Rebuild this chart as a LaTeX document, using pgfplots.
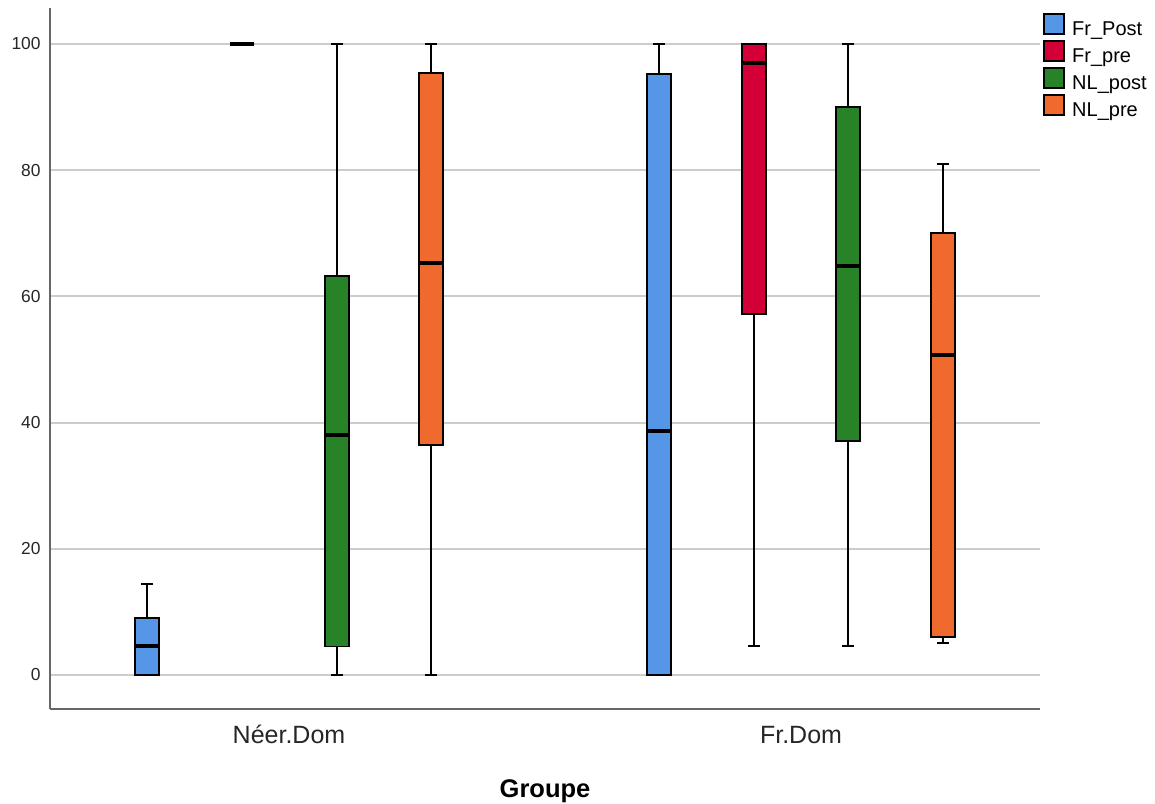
\documentclass[border=0pt]{standalone}
\usepackage{fontspec}
\setmainfont{Liberation Sans}
\usepackage{pgfplots}
\pgfplotsset{compat=1.18}
\usepgfplotslibrary{statistics}
\definecolor{cBlue}{RGB}{85,150,230}
\definecolor{cRed}{RGB}{210,0,55}
\definecolor{cGreen}{RGB}{40,130,40}
\definecolor{cOrange}{RGB}{240,105,45}
\pgfplotsset{sqlegend/.style={legend image code/.code={\draw[##1] (0pt,-1.95pt) rectangle (10pt,8.05pt);}}}
\begin{document}
\begin{tikzpicture}
\useasboundingbox (-25pt,-47pt) rectangle (552.5pt,354.5pt);
\begin{axis}[
  at={(0pt,0pt)}, anchor=south west,
  scale only axis, width=495pt, height=350.5pt,
  xmin=50, xmax=1040, ymin=-5.39, ymax=105.7,
  axis x line=bottom, axis y line=left,
  axis line style={-, black!60, line width=1pt},
  ytick={0,20,...,100}, ymajorgrids,
  grid style={black!20, line width=1pt},
  major tick length=0pt,
  xtick={289,801}, xticklabels={Néer.Dom,Fr.Dom},
  xticklabel style={font=\fontsize{12.5}{15}\selectfont, anchor=base, yshift=-17pt, text=black!85},
  yticklabel style={font=\fontsize{8.7}{10}\selectfont, anchor=east, inner xsep=0pt, xshift=-4.5pt, text=black!85},
  /pgf/number format/assume math mode=true,
  xlabel={Groupe},
  xlabel style={font=\fontsize{12.75}{15}\selectfont\bfseries, at={(rel axis cs:0.5,0)}, anchor=base, yshift=-44pt},
  boxplot/draw direction=y,
  boxplot/box extend=24,
  boxplot/whisker extend=12,
  boxplot/every median/.style={line width=2.2pt, black},
  clip=false,
  legend style={at={(axis cs:1043,105.0)}, anchor=north west, draw=none, fill=none, inner sep=0pt,
    font=\fontsize{10}{12}\selectfont, row sep=-1.1pt,
    /tikz/every odd column/.style={column sep=1.5pt}},
  legend cell align=left,
]
% Neer.Dom
\addplot[forget plot, boxplot prepared={draw position=147, lower whisker=0, lower quartile=0, median=4.6, upper quartile=9.0, upper whisker=14.4}, fill=cBlue, draw=black, line width=0.9pt] coordinates {};
\addplot[forget plot, boxplot prepared={draw position=242, lower whisker=100, lower quartile=100, median=100, upper quartile=100, upper whisker=100}, fill=cRed, draw=black, line width=0.9pt] coordinates {};
\addplot[forget plot, boxplot prepared={draw position=337, lower whisker=0, lower quartile=4.5, median=38.0, upper quartile=63.2, upper whisker=100}, fill=cGreen, draw=black, line width=0.9pt] coordinates {};
\addplot[forget plot, boxplot prepared={draw position=431, lower whisker=0, lower quartile=36.5, median=65.3, upper quartile=95.4, upper whisker=100}, fill=cOrange, draw=black, line width=0.9pt] coordinates {};
% Fr.Dom
\addplot[forget plot, boxplot prepared={draw position=659, lower whisker=0, lower quartile=0, median=38.7, upper quartile=95.2, upper whisker=100}, fill=cBlue, draw=black, line width=0.9pt] coordinates {};
\addplot[forget plot, boxplot prepared={draw position=754, lower whisker=4.6, lower quartile=57.2, median=97.0, upper quartile=100, upper whisker=100}, fill=cRed, draw=black, line width=0.9pt] coordinates {};
\addplot[forget plot, boxplot prepared={draw position=848, lower whisker=4.6, lower quartile=37.1, median=64.8, upper quartile=90.0, upper whisker=100}, fill=cGreen, draw=black, line width=0.9pt] coordinates {};
\addplot[forget plot, boxplot prepared={draw position=943, lower whisker=5.1, lower quartile=6.0, median=50.7, upper quartile=70.0, upper whisker=81.0}, fill=cOrange, draw=black, line width=0.9pt] coordinates {};
\addlegendimage{sqlegend, fill=cBlue, draw=black, line width=0.9pt}
\addlegendentry{Fr\_Post}
\addlegendimage{sqlegend, fill=cRed, draw=black, line width=0.9pt}
\addlegendentry{Fr\_pre}
\addlegendimage{sqlegend, fill=cGreen, draw=black, line width=0.9pt}
\addlegendentry{NL\_post}
\addlegendimage{sqlegend, fill=cOrange, draw=black, line width=0.9pt}
\addlegendentry{NL\_pre}
\end{axis}
\end{tikzpicture}
\end{document}
